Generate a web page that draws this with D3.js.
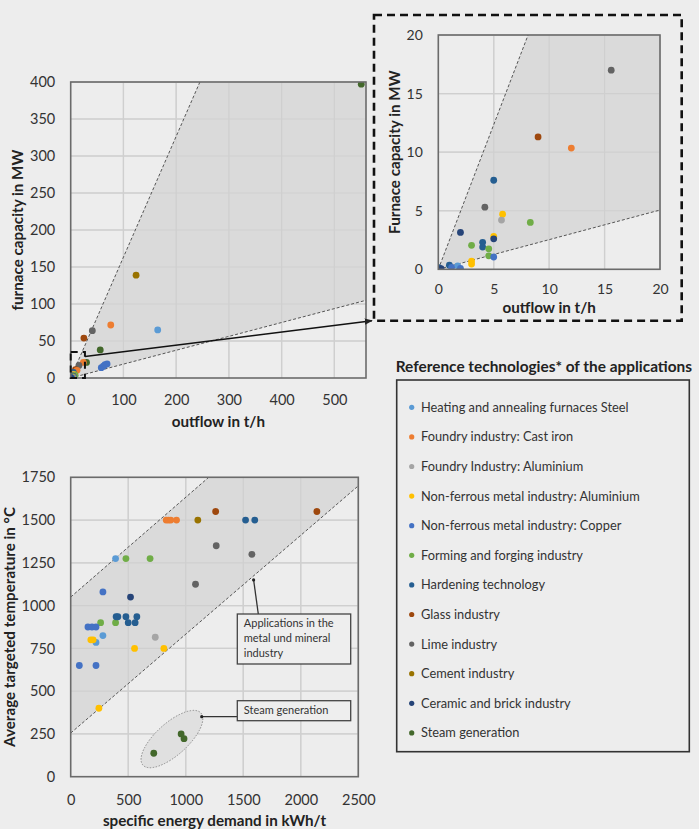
<!DOCTYPE html>
<html>
<head>
<meta charset="utf-8">
<script src="https://cdn.jsdelivr.net/npm/d3@7"></script>
<style>
  html, body { margin: 0; padding: 0; background: #ededed; }
  svg { display: block; font-family: Lato, "Open Sans", sans-serif; }
</style>
</head>
<body>
<svg id="chart" width="699" height="829"></svg>
<script>
// ---------- DATA ----------
const categories = [
  "Heating and annealing furnaces Steel",
  "Foundry industry: Cast iron",
  "Foundry Industry: Aluminium",
  "Non-ferrous metal industry: Aluminium",
  "Non-ferrous metal industry: Copper",
  "Forming and forging industry",
  "Hardening technology",
  "Glass industry",
  "Lime industry",
  "Cement industry",
  "Ceramic and brick industry",
  "Steam generation"
];
const categoryColors = ["#5b9bd5","#ed7d31","#a5a5a5","#ffc000","#4472c4","#70ad47",
                        "#255e91","#9e480e","#636363","#997300","#264478","#43682b"];

// Chart 1: outflow (t/h) vs furnace capacity (MW); category index per point
const capOutflow  = [551, 124, 76, 165, 41, 25, 56, 30, 24, 58, 62, 65, 69,
                     15.6, 9, 12, 5, 4.2, 5.8, 5.7, 8.3, 2, 3, 4, 4, 5, 5, 4.55, 4.55, 5, 3, 3, 1.75, 2, 1, 1.2, 0.05, 0.25];
const capCapacity = [397, 139, 71.6, 65, 64, 54, 38, 21, 21, 14, 16, 18, 19,
                     17, 11.3, 10.35, 7.6, 5.3, 4.7, 4.2, 4.0, 3.15, 2.05, 2.3, 1.9, 2.8, 2.6, 1.75, 1.15, 1.05, 0.7, 0.45, 0.3, 0.08, 0.35, 0.17, 0.15, 0.05];
const capCategory = [11, 9, 1, 0, 8, 7, 11, 11, 1, 4, 4, 4, 4,
                     8, 7, 1, 6, 8, 3, 2, 5, 10, 5, 6, 6, 3, 10, 5, 5, 4, 3, 3, 0, 4, 6, 4, 6, 10];

// Chart 2: specific energy demand (kWh/t) vs average targeted temperature (°C)
const energyDemand = [1260, 2140, 830, 850, 870, 920, 1105, 1520, 1600, 1265, 1575, 1085,
                      390, 220, 280, 480, 690, 390, 260, 280, 150, 185, 220, 75, 220,
                      520, 395, 410, 480, 575, 500, 560, 175, 195, 555, 810, 245, 735, 960, 985, 722];
const targetTemp   = [1550, 1550, 1500, 1500, 1500, 1500, 1500, 1500, 1500, 1350, 1300, 1125,
                      1275, 785, 825, 1275, 1275, 900, 900, 1080, 875, 875, 875, 650, 650,
                      1050, 935, 935, 935, 935, 900, 900, 800, 800, 750, 750, 400, 815, 250, 222, 137];
const tempCategory = [7, 7, 1, 1, 1, 1, 9, 6, 6, 8, 8, 8,
                      0, 0, 0, 5, 5, 5, 5, 4, 4, 4, 4, 4, 4,
                      10, 6, 6, 6, 6, 6, 6, 3, 3, 3, 3, 3, 2, 11, 11, 11];

// Ranges (boundary lines)
const capUpperLine   = [[0, 0], [245, 400]];
const capLowerLine   = [[0, 0], [560, 105]];
const insetUpperLine = [[0, 0], [8.1, 20]];
const insetLowerLine = [[0, 0], [20, 5.06]];
const tempUpperLine  = [[0, 1050], [1200, 1750]];
const tempLowerLine  = [[0, 255], [2500, 1700]];
const steamCenter    = [880, 220];

// Tick values
const capXTicks = [0, 100, 200, 300, 400, 500];
const capYTicks = [0, 50, 100, 150, 200, 250, 300, 350, 400];
const insetTicks = [0, 5, 10, 15, 20];
const tempXTicks = [0, 500, 1000, 1500, 2000, 2500];
const tempYTicks = [0, 250, 500, 750, 1000, 1250, 1500, 1750];

// Annotations
const annotationMetal = ["Applications in the", "metal und mineral", "industry"];
const annotationSteam = ["Steam generation"];
const legendTitle = "Reference technologies* of the applications";

// ---------- DRAW ----------
const svg = d3.select("#chart");
const GRID = "#d3d3d3", BORDER = "#6b6b6b", SHADE = "#dadada", TEXT = "#333";

svg.append("defs").append("marker")
  .attr("id", "arrow").attr("viewBox", "0 0 10 10").attr("refX", 9).attr("refY", 5)
  .attr("markerWidth", 5).attr("markerHeight", 5).attr("orient", "auto")
  .append("path").attr("d", "M0,1 L10,5 L0,9 z").attr("fill", "#222");

function panel(opts) {
  const { x, y, xTicks, yTicks, id, xTitle, yTitle, yTitleX, xTickY, xTitleY, tickFont } = opts;
  const g = svg.append("g");
  const [x0, x1] = x.range(), [y0, y1] = y.range();
  g.append("clipPath").attr("id", id).append("rect")
    .attr("x", x0).attr("y", y1).attr("width", x1 - x0).attr("height", y0 - y1);

  g.append("g").selectAll("line").data(xTicks.filter(t => t > x.domain()[0])).join("line")
    .attr("x1", d => x(d)).attr("x2", d => x(d)).attr("y1", y1).attr("y2", y0)
    .attr("stroke", GRID).attr("stroke-width", 1.3);
  g.append("g").selectAll("line").data(yTicks.filter(t => t > y.domain()[0])).join("line")
    .attr("y1", d => y(d)).attr("y2", d => y(d)).attr("x1", x0).attr("x2", x1)
    .attr("stroke", GRID).attr("stroke-width", 1.3);

  const body = g.append("g").attr("clip-path", `url(#${id})`);

  const fmt = d3.format("d");
  const ya = g.append("g").attr("transform", `translate(${x0},0)`)
    .call(d3.axisLeft(y).tickValues(yTicks).tickFormat(fmt).tickSize(0).tickPadding(15.5));
  ya.select(".domain").remove();
  ya.selectAll("text").attr("font-size", tickFont).attr("fill", TEXT).attr("font-family", "Lato");
  const xa = g.append("g").attr("transform", `translate(0,${xTickY})`)
    .call(d3.axisBottom(x).tickValues(xTicks).tickFormat(fmt).tickSize(0).tickPadding(0));
  xa.select(".domain").remove();
  xa.selectAll("text").attr("font-size", tickFont).attr("fill", TEXT).attr("font-family", "Lato")
    .attr("dy", "0.35em").attr("y", 0);

  g.append("text").attr("x", (x0 + x1) / 2).attr("y", xTitleY).attr("dy", "0.35em")
    .attr("text-anchor", "middle").attr("font-weight", "bold").attr("font-size", "15.2px")
    .attr("fill", "#222").text(xTitle);
  g.append("text").attr("transform", `translate(${yTitleX},${(y0 + y1) / 2}) rotate(-90)`)
    .attr("dy", "0.35em").attr("text-anchor", "middle").attr("font-weight", "bold")
    .attr("font-size", "15.2px").attr("fill", "#222").text(yTitle);

  return { g, body, border: () => g.append("rect").attr("x", x0).attr("y", y1)
    .attr("width", x1 - x0).attr("height", y0 - y1).attr("fill", "none")
    .attr("stroke", BORDER).attr("stroke-width", 1.6) };
}

function band(body, x, y, upper, lower, xTicks, yTicks) {
  const [xmin, xmax] = x.domain(), ymax = y.domain()[1];
  const [x0, x1] = x.range(), [y0, y1] = y.range();
  const poly = [lower[0], upper[0], upper[1], [xmax, ymax], [xmax, lower[1][1]], lower[1]];
  body.append("path").attr("d", d3.line().x(d => x(d[0])).y(d => y(d[1]))(poly) + "Z")
    .attr("fill", SHADE);
  body.append("g").selectAll("line").data(xTicks.slice(1)).join("line")
    .attr("x1", d => x(d)).attr("x2", d => x(d)).attr("y1", y1).attr("y2", y0)
    .attr("stroke", "#cfcfcf").attr("stroke-width", 1.2);
  body.append("g").selectAll("line").data(yTicks.slice(1)).join("line")
    .attr("y1", d => y(d)).attr("y2", d => y(d)).attr("x1", x0).attr("x2", x1)
    .attr("stroke", "#cfcfcf").attr("stroke-width", 1.2);
}
function dashed(body, x, y, seg) {
  body.append("line").attr("x1", x(seg[0][0])).attr("y1", y(seg[0][1]))
    .attr("x2", x(seg[1][0])).attr("y2", y(seg[1][1]))
    .attr("stroke", "#555").attr("stroke-width", 1).attr("stroke-dasharray", "3,2");
}
function dots(body, x, y, xs, ys, cs, filter) {
  const pts = xs.map((v, i) => ({ x: v, y: ys[i], c: cs[i] })).filter(filter || (() => true));
  body.append("g").selectAll("circle").data(pts).join("circle")
    .attr("cx", d => x(d.x)).attr("cy", d => y(d.y)).attr("r", 3.4)
    .attr("fill", d => categoryColors[d.c]);
}

// ---- Chart 1 (main) ----
const xMain = d3.scaleLinear().domain([0, 560]).range([70.7, 366]);
const yMain = d3.scaleLinear().domain([0, 400]).range([378, 82]);
const p1 = panel({ x: xMain, y: yMain, xTicks: capXTicks, yTicks: capYTicks, id: "c1",
  xTitle: "outflow in t/h", yTitle: "furnace capacity in MW", yTitleX: 18, xTickY: 400, xTitleY: 422,
  tickFont: "14.5px" });
band(p1.body, xMain, yMain, capUpperLine, capLowerLine, capXTicks, capYTicks);
dashed(p1.body, xMain, yMain, capUpperLine);
dashed(p1.body, xMain, yMain, capLowerLine);
dots(p1.body, xMain, yMain, capOutflow, capCapacity, capCategory);
p1.border();

svg.append("rect").attr("x", xMain(0)).attr("y", yMain(35)).attr("width", xMain(27) - xMain(0))
  .attr("height", yMain(0) - yMain(35)).attr("fill", "none").attr("stroke", "#111")
  .attr("stroke-width", 2).attr("stroke-dasharray", "7,5");
svg.append("line").attr("x1", xMain(27)).attr("y1", yMain(29)).attr("x2", 372).attr("y2", 320.7)
  .attr("stroke", "#111").attr("stroke-width", 1.6).attr("marker-end", "url(#arrow)");

// ---- Chart 1 inset ----
svg.append("rect").attr("x", 374).attr("y", 15).attr("width", 307.7).attr("height", 305.7)
  .attr("fill", "none").attr("stroke", "#111").attr("stroke-width", 2.6).attr("stroke-dasharray", "8,5");
const xIn = d3.scaleLinear().domain([0, 20]).range([438.3, 660]);
const yIn = d3.scaleLinear().domain([0, 20]).range([269.3, 35]);
const p2 = panel({ x: xIn, y: yIn, xTicks: insetTicks, yTicks: insetTicks, id: "c2",
  xTitle: "outflow in t/h", yTitle: "Furnace capacity in MW", yTitleX: 395, xTickY: 289.5, xTitleY: 307.5,
  tickFont: "14px" });
band(p2.body, xIn, yIn, insetUpperLine, insetLowerLine, insetTicks, insetTicks);
dashed(p2.body, xIn, yIn, insetUpperLine);
dashed(p2.body, xIn, yIn, insetLowerLine);
dots(p2.body, xIn, yIn, capOutflow, capCapacity, capCategory, d => d.x <= 20 && d.y <= 20);
p2.border();

// ---- Chart 2 ----
const xB = d3.scaleLinear().domain([0, 2500]).range([70.7, 358.3]);
const yB = d3.scaleLinear().domain([0, 1750]).range([776.7, 477.3]);
const p3 = panel({ x: xB, y: yB, xTicks: tempXTicks, yTicks: tempYTicks, id: "c3",
  xTitle: "specific energy demand in kWh/t", yTitle: "Average targeted temperature in °C",
  yTitleX: 10, xTickY: 800, xTitleY: 820.5, tickFont: "14.5px" });
band(p3.body, xB, yB, tempUpperLine, tempLowerLine, tempXTicks, tempYTicks);
dashed(p3.body, xB, yB, tempUpperLine);
dashed(p3.body, xB, yB, tempLowerLine);
p3.body.append("ellipse")
  .attr("transform", `translate(${xB(steamCenter[0])},${yB(steamCenter[1])}) rotate(-42)`)
  .attr("rx", 39).attr("ry", 16).attr("fill", "#e0e0e0")
  .attr("stroke", "#888").attr("stroke-width", 0.9).attr("stroke-dasharray", "1.5,1.5");
dots(p3.body, xB, yB, energyDemand, targetTemp, tempCategory);
p3.border();

function note(lines, bx, by, bw, bh, lineStart, lineEnd) {
  svg.append("line").attr("x1", lineStart[0]).attr("y1", lineStart[1])
    .attr("x2", lineEnd[0]).attr("y2", lineEnd[1]).attr("stroke", "#333").attr("stroke-width", 1.3);
  svg.append("circle").attr("cx", lineEnd[0]).attr("cy", lineEnd[1]).attr("r", 1.6).attr("fill", "#222");
  svg.append("rect").attr("x", bx).attr("y", by).attr("width", bw).attr("height", bh)
    .attr("fill", "#eeeeee").attr("stroke", "#444").attr("stroke-width", 1.3);
  const t = svg.append("text").attr("font-size", "11px").attr("fill", "#333");
  lines.forEach((l, i) => t.append("tspan").attr("x", bx + 6.5)
    .attr("y", by + 9.5 + i * 14.7).attr("dy", "0.35em").text(l));
}
note(annotationMetal, 237.3, 614, 113.4, 50, [258.3, 614], [xB(1590), yB(1150)]);
note(annotationSteam, 237.3, 700.7, 113.4, 20, [237.3, 716.7], [xB(1139), yB(351)]);

// ---- Legend ----
svg.append("text").attr("x", 395.7).attr("y", 366.7).attr("dy", "0.35em")
  .attr("font-weight", "bold").attr("font-size", "15.4px").attr("fill", "#222").text(legendTitle);
svg.append("rect").attr("x", 396.7).attr("y", 380).attr("width", 292.6).attr("height", 371.7)
  .attr("fill", "none").attr("stroke", "#333").attr("stroke-width", 1.6);
const leg = svg.append("g").selectAll("g").data(categories).join("g")
  .attr("transform", (d, i) => `translate(411.7,${407.3 + i * 29.6})`);
leg.append("circle").attr("r", 2.6).attr("fill", (d, i) => categoryColors[i]);
leg.append("text").attr("x", 9.3).attr("dy", "0.35em").attr("font-size", "12.8px")
  .attr("fill", "#333").text(d => d);
</script>
</body>
</html>
